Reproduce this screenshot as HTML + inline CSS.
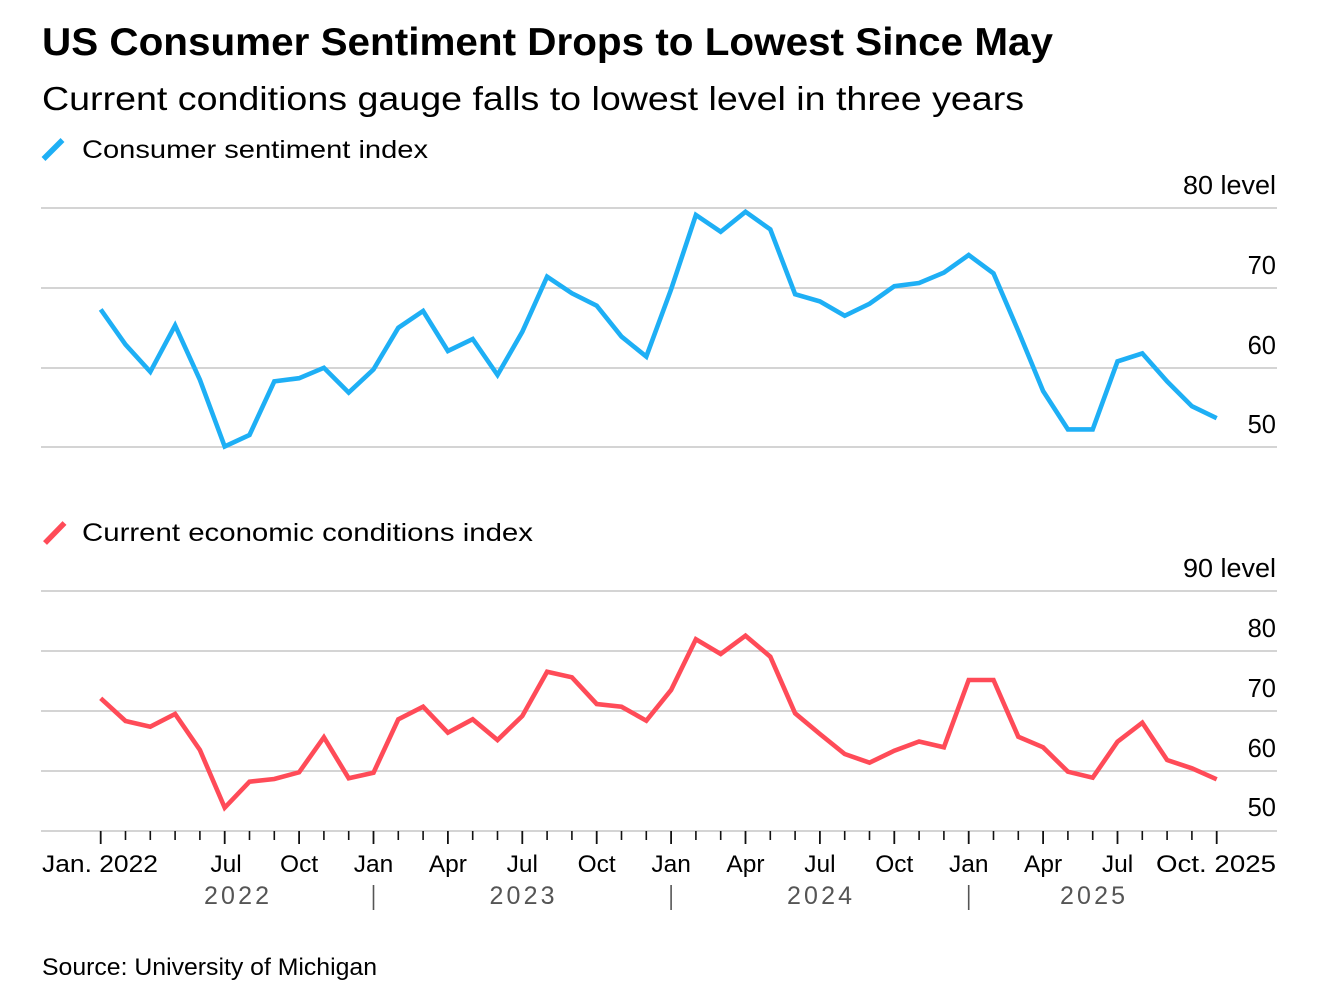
<!DOCTYPE html>
<html>
<head>
<meta charset="utf-8">
<style>
  html,body{margin:0;padding:0;background:#fff;}
  svg{display:block;}
  text{font-family:"Liberation Sans",Arial,sans-serif;fill:#000;}
</style>
</head>
<body>
<svg width="1338" height="1000" viewBox="0 0 1338 1000" xmlns="http://www.w3.org/2000/svg">
  <rect width="1338" height="1000" fill="#fff"/>

  <!-- Title & subtitle -->
  <text x="42" y="55" font-size="38.5" font-weight="bold" textLength="1011" lengthAdjust="spacingAndGlyphs">US Consumer Sentiment Drops to Lowest Since May</text>
  <text x="42" y="110" font-size="33" textLength="982" lengthAdjust="spacingAndGlyphs">Current conditions gauge falls to lowest level in three years</text>

  <!-- Legend 1 -->
  <line x1="43.5" y1="159" x2="62.5" y2="140" stroke="#1eaff5" stroke-width="5.5"/>
  <text x="82" y="158" font-size="25" textLength="346" lengthAdjust="spacingAndGlyphs">Consumer sentiment index</text>

  <!-- Top chart gridlines -->
  <g stroke="#c6c6c6" stroke-width="1.6">
    <line x1="41" y1="208" x2="1277" y2="208"/>
    <line x1="41" y1="288" x2="1277" y2="288"/>
    <line x1="41" y1="368" x2="1277" y2="368"/>
    <line x1="41" y1="447" x2="1277" y2="447"/>
  </g>
  <g font-size="25.5" text-anchor="end">
    <text x="1276" y="194" textLength="93" lengthAdjust="spacingAndGlyphs">80 level</text>
    <text x="1276" y="274">70</text>
    <text x="1276" y="354">60</text>
    <text x="1276" y="433">50</text>
  </g>

  <polyline fill="none" stroke="#1eaff5" stroke-width="4.6" stroke-linejoin="miter" stroke-miterlimit="3"
    points="100.7,309.4 125.5,344.6 150.3,371.8 175.1,325.4 199.9,379.8 224.7,446.5 249.5,435 274.3,381.4 299.1,378.2 323.9,367.8 348.7,392.6 373.5,369.4 398.3,327.8 423.1,311 447.9,351 472.7,339 497.5,375 522.3,331.8 547.1,276.7 571.9,293.3 596.7,305.7 621.5,336.6 646.3,356.6 671.1,289.4 695.9,215 720.7,231.8 745.5,211.8 770.3,229.4 795.1,294.2 819.9,301.4 844.7,315.8 869.5,303.8 894.3,286.2 919.1,283 943.9,272.6 968.7,255 993.5,273.4 1018.3,331 1043.1,391 1067.9,429.4 1092.7,429.4 1117.5,361.4 1142.3,353.4 1167.1,381.4 1191.9,406.2 1216.7,418.2"/>

  <!-- Legend 2 -->
  <line x1="45" y1="543" x2="64.5" y2="523" stroke="#ff4b58" stroke-width="5.5"/>
  <text x="82" y="541" font-size="25" textLength="451" lengthAdjust="spacingAndGlyphs">Current economic conditions index</text>

  <!-- Bottom chart gridlines -->
  <g stroke="#c6c6c6" stroke-width="1.6">
    <line x1="41" y1="591" x2="1277" y2="591"/>
    <line x1="41" y1="651" x2="1277" y2="651"/>
    <line x1="41" y1="711" x2="1277" y2="711"/>
    <line x1="41" y1="771" x2="1277" y2="771"/>
    <line x1="41" y1="831" x2="1277" y2="831"/>
  </g>
  <g font-size="25.5" text-anchor="end">
    <text x="1276" y="577" textLength="93" lengthAdjust="spacingAndGlyphs">90 level</text>
    <text x="1276" y="637">80</text>
    <text x="1276" y="697">70</text>
    <text x="1276" y="757">60</text>
    <text x="1276" y="816">50</text>
  </g>

  <polyline fill="none" stroke="#ff4b58" stroke-width="4.6" stroke-linejoin="miter" stroke-miterlimit="3"
    points="100.7,698.3 125.5,721 150.3,726.7 175.1,714 199.9,750 224.7,807.7 249.5,781.7 274.3,779 299.1,772.3 323.9,737.3 348.7,778.3 373.5,772.7 398.3,719.3 423.1,706.7 447.9,732.7 472.7,719.3 497.5,740 522.3,716 547.1,671.7 571.9,677.3 596.7,704 621.5,706.7 646.3,720.7 671.1,690 695.9,639.3 720.7,654 745.5,635.7 770.3,656.7 795.1,713.3 819.9,734 844.7,754 869.5,762.7 894.3,750.7 919.1,741.5 943.9,747.3 968.7,680 993.5,680 1018.3,736.7 1043.1,747.3 1067.9,771.7 1092.7,777.7 1117.5,741.7 1142.3,722.7 1167.1,760 1191.9,768.3 1216.7,779.3"/>

  <!-- X ticks -->
  <path fill="none" stroke="#111" stroke-width="1.6"
    d="M125.5 831V840M150.3 831V840M175.1 831V840M199.9 831V840M249.5 831V840M274.3 831V840M323.9 831V840M348.7 831V840M398.3 831V840M423.1 831V840M472.7 831V840M497.5 831V840M547.1 831V840M571.9 831V840M621.5 831V840M646.3 831V840M695.9 831V840M720.7 831V840M770.3 831V840M795.1 831V840M844.7 831V840M869.5 831V840M919.1 831V840M943.9 831V840M993.5 831V840M1018.3 831V840M1067.9 831V840M1092.7 831V840M1142.3 831V840M1167.1 831V840M1191.9 831V840"/>
  <path fill="none" stroke="#111" stroke-width="1.8"
    d="M100.7 831V844M224.7 831V844M299.1 831V844M373.5 831V844M447.9 831V844M522.3 831V844M596.7 831V844M671.1 831V844M745.5 831V844M819.9 831V844M894.3 831V844M968.7 831V844M1043.1 831V844M1117.5 831V844M1216.7 831V844"/>

  <!-- X labels -->
  <g font-size="24.5" text-anchor="middle">
    <text x="100" y="872" textLength="116" lengthAdjust="spacingAndGlyphs">Jan. 2022</text>
    <text x="226" y="872">Jul</text>
    <text x="299.1" y="872">Oct</text>
    <text x="373.5" y="872">Jan</text>
    <text x="447.9" y="872">Apr</text>
    <text x="522.3" y="872">Jul</text>
    <text x="596.7" y="872">Oct</text>
    <text x="671.1" y="872">Jan</text>
    <text x="745.5" y="872">Apr</text>
    <text x="819.9" y="872">Jul</text>
    <text x="894.3" y="872">Oct</text>
    <text x="968.7" y="872">Jan</text>
    <text x="1043.1" y="872">Apr</text>
    <text x="1117.5" y="872">Jul</text>
    <text x="1216" y="872" textLength="120" lengthAdjust="spacingAndGlyphs">Oct. 2025</text>
  </g>

  <!-- Year labels -->
  <g font-size="25" text-anchor="middle">
    <text x="236.5" y="904" textLength="65" lengthAdjust="spacing" style="fill:#555">2022</text>
    <text x="522" y="904" textLength="65" lengthAdjust="spacing" style="fill:#555">2023</text>
    <text x="819.5" y="904" textLength="65" lengthAdjust="spacing" style="fill:#555">2024</text>
    <text x="1092.5" y="904" textLength="65" lengthAdjust="spacing" style="fill:#555">2025</text>
  </g>
  <g stroke="#555" stroke-width="1.6">
    <line x1="373.5" y1="885" x2="373.5" y2="910"/>
    <line x1="671.1" y1="885" x2="671.1" y2="910"/>
    <line x1="968.7" y1="885" x2="968.7" y2="910"/>
  </g>

  <!-- Source -->
  <text x="42" y="975" font-size="24" textLength="335" lengthAdjust="spacingAndGlyphs">Source: University of Michigan</text>
</svg>
</body>
</html>
